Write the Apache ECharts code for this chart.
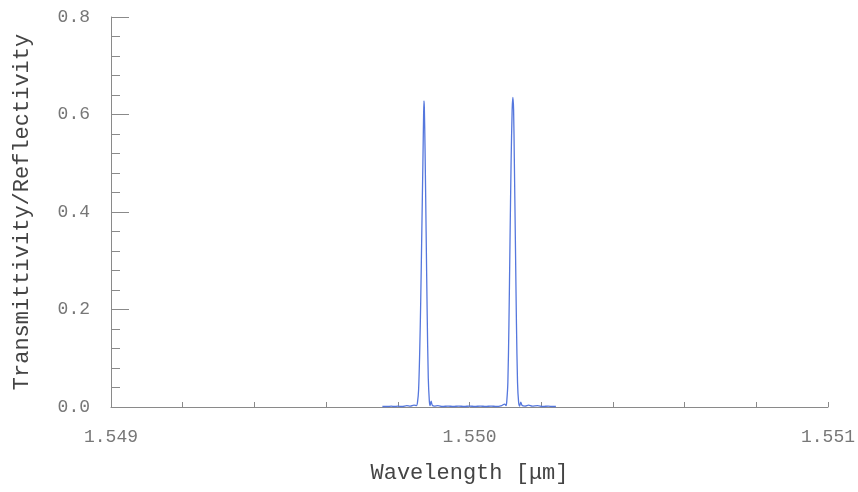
<!DOCTYPE html>
<html>
<head>
<meta charset="utf-8">
<script src="https://cdn.jsdelivr.net/npm/echarts@6/dist/echarts.min.js"></script>
<style>html,body{margin:0;padding:0;background:#fff;}#c{width:858px;height:492px;}</style>
</head>
<body>
<div id="c"></div>
<script>
var wavelength = [
1.549757,1.549770,1.549782,1.549790,1.549800,1.549812,1.549825,1.549835,1.549845,1.549852,
1.549855,1.549858,1.549861,1.549864,1.549867,1.549870,1.549872,1.549873,1.549874,1.549876,
1.549879,1.549882,1.549885,1.549888,1.549890,1.549893,1.549896,1.549902,1.549912,1.549925,
1.549940,1.549955,1.549970,1.549985,1.550000,1.550015,1.550030,1.550045,1.550060,1.550075,
1.550090,1.550098,1.550102,1.550104,1.550107,1.550110,1.550113,1.550116,1.550119,1.550121,
1.550123,1.550125,1.550128,1.550131,1.550134,1.550137,1.550140,1.550143,1.550147,1.550155,
1.550165,1.550175,1.550190,1.550205,1.550220,1.550232,1.550241
];
var response = [
0.001,0.001,0.002,0.001,0.002,0.001,0.003,0.002,0.004,0.003,
0.010,0.035,0.11,0.22,0.36,0.50,0.60,0.628,0.615,0.53,
0.36,0.19,0.06,0.012,0.003,0.012,0.004,0.002,0.003,0.001,
0.002,0.001,0.002,0.001,0.002,0.001,0.002,0.001,0.002,0.001,
0.003,0.006,0.003,0.012,0.05,0.17,0.34,0.50,0.61,0.635,
0.61,0.51,0.34,0.17,0.05,0.010,0.002,0.010,0.003,0.002,
0.004,0.002,0.003,0.001,0.002,0.001,0.001
];
var xTicks = [1.549, 1.550, 1.551];
var yTicks = [0.0, 0.2, 0.4, 0.6, 0.8];

var font = '"Courier New", "Liberation Mono", "DejaVu Sans Mono", monospace';
var data = wavelength.map(function (w, i) { return [w, response[i]]; });
var chart = echarts.init(document.getElementById('c'), null, {renderer: 'canvas'});
chart.setOption({
  animation: false,
  backgroundColor: '#ffffff',
  grid: {left: 111, right: 28, top: 17, bottom: 85},
  xAxis: {
    type: 'value',
    min: xTicks[0], max: xTicks[xTicks.length - 1], interval: 0.001,
    name: 'Wavelength [\u03bcm]',
    nameLocation: 'middle', nameGap: 55,
    nameTextStyle: {fontFamily: font, fontSize: 22, color: '#444'},
    axisLine: {show: true, lineStyle: {color: '#8a8a8a', width: 1}},
    axisTick: {show: true, inside: true, length: 5, lineStyle: {color: '#8a8a8a'}},
    minorTick: {show: true, splitNumber: 5, length: 5, lineStyle: {color: '#8a8a8a'}},
    splitLine: {show: false},
    axisLabel: {margin: 21, fontFamily: font, fontSize: 18, color: '#777',
      showMinLabel: true, showMaxLabel: true,
      formatter: function (v) { return v.toFixed(3); }}
  },
  yAxis: {
    type: 'value',
    min: yTicks[0], max: yTicks[yTicks.length - 1], interval: 0.2,
    name: 'Transmittivity/Reflectivity',
    nameLocation: 'middle', nameGap: 78, nameRotate: 90,
    nameTextStyle: {fontFamily: font, fontSize: 22, color: '#444'},
    axisLine: {show: true, lineStyle: {color: '#8a8a8a', width: 1}},
    axisTick: {show: true, inside: true, length: 18, lineStyle: {color: '#8a8a8a'}},
    minorTick: {show: true, splitNumber: 5, length: 9, lineStyle: {color: '#8a8a8a'}},
    splitLine: {show: false},
    axisLabel: {margin: 21, fontFamily: font, fontSize: 18, color: '#777',
      padding: [7, 0, 0, 0],
      formatter: function (v) { return v.toFixed(1); }}
  },
  series: [{
    type: 'line',
    data: data,
    showSymbol: false,
    smooth: 0.3,
    lineStyle: {color: '#5577dd', width: 1.3},
    itemStyle: {color: '#5577dd'}
  }]
});
</script>
</body>
</html>
